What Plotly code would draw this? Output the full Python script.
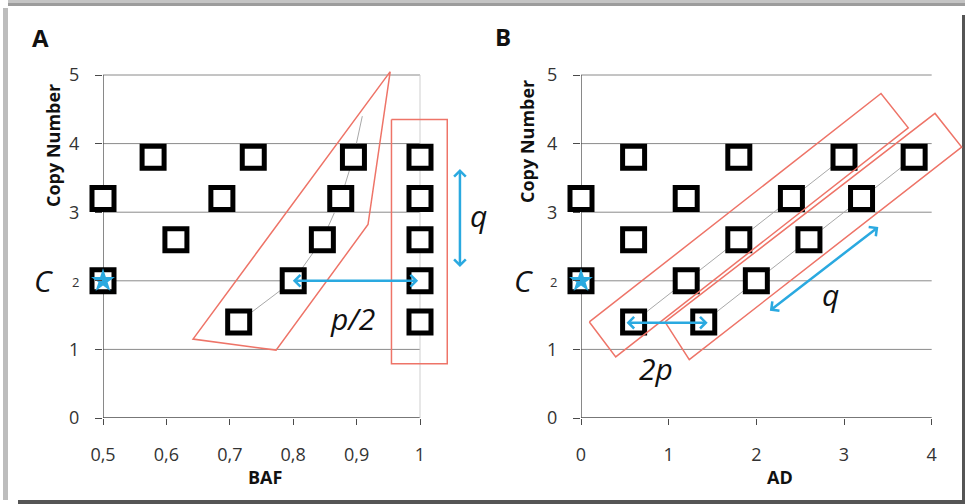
import plotly.graph_objects as go

# ---------------- data ----------------
# Panel A: BAF vs copy number
baf_vals = [0.579, 0.737, 0.895, 1.0,
            0.5, 0.6875, 0.875, 1.0,
            0.615, 0.846, 1.0,
            0.5, 0.8, 1.0,
            0.714, 1.0]
cn_vals = [3.8, 3.8, 3.8, 3.8,
           3.2, 3.2, 3.2, 3.2,
           2.6, 2.6, 2.6,
           2.0, 2.0, 2.0,
           1.4, 1.4]
# Panel B: AD vs copy number
ad_vals = [0.6, 1.8, 3.0, 3.8,
           0.0, 1.2, 2.4, 3.2,
           0.6, 1.8, 2.6,
           0.0, 1.2, 2.0,
           0.6, 1.4]

# normal (star) point
normal_baf = [0.5]
normal_ad = [0.0]
normal_cn = [2.0]

# connecting grey lines
conn_a_x = [0.714, 0.8, 0.846, 0.875, 0.895, 0.909]
conn_a_y = [1.4, 2.0, 2.6, 3.2, 3.8, 4.4]
conn_b1_x = [0.6, 1.2, 1.8, 2.4, 3.0]
conn_b2_x = [1.4, 2.0, 2.6, 3.2, 3.8]
conn_b_y = [1.4, 2.0, 2.6, 3.2, 3.8]

# red outlines
red_a1_x = [0.953, 0.918, 0.773, 0.642, 0.953]
red_a1_y = [5.05, 2.82, 0.99, 1.15, 5.05]
red_a2_x = [0.955, 1.043, 1.043, 0.955, 0.955]
red_a2_y = [4.35, 4.35, 0.79, 0.79, 4.35]
red_b1_x = [0.095, 0.396, 3.733, 3.422, 0.095]
red_b1_y = [1.40, 0.89, 4.23, 4.73, 1.40]
red_b2_x = [0.958, 1.235, 4.342, 4.038, 0.958]
red_b2_y = [1.40, 0.85, 3.95, 4.44, 1.40]

# ticks
x_a_ticks = [0.5, 0.6, 0.7, 0.8, 0.9, 1.0]
x_a_text = ["0,5", "0,6", "0,7", "0,8", "0,9", "1"]
x_b_ticks = [0, 1, 2, 3, 4]
x_b_text = ["0", "1", "2", "3", "4"]
y_ticks = [0, 1, 2, 3, 4, 5]
y_text = ["0", "1", "<span style='font-size:13px'>2</span>", "3", "4", "5"]

# ---------------- styling ----------------
W, H = 965, 504
FONT = "Open Sans"
CYAN = "#2aa9e0"
RED = "#ee7468"
GRID = "#8a8a8a"
AXIS = "#4a4a4a"

def px_x(p):
    return p / W

def px_y(p):
    return 1 - p / H

# pixel geometry
A_x0, A_scale, A_range = 103, 634.0, [0.5, 1.12]
B_x0, B_scale, B_range = 581, 87.67, [0, 4.37]
Y0, Y_scale, Y_range = 418, 68.6, [0, 5.1]

A_dom = [px_x(A_x0), px_x(A_x0 + (A_range[1] - A_range[0]) * A_scale)]
B_dom = [px_x(B_x0), px_x(B_x0 + (B_range[1] - B_range[0]) * B_scale)]
Y_dom = [px_y(Y0), px_y(Y0 - (Y_range[1] - Y_range[0]) * Y_scale)]

fig = go.Figure()

def line_trace(x, y, color, width, xa, ya):
    return go.Scatter(x=x, y=y, mode="lines", line=dict(color=color, width=width),
                      xaxis=xa, yaxis=ya, hoverinfo="skip", showlegend=False)

# grey connectors
fig.add_trace(line_trace(conn_a_x, conn_a_y, "#a8a8a8", 1, "x", "y"))
fig.add_trace(line_trace(conn_b1_x, conn_b_y, "#a8a8a8", 1, "x2", "y2"))
fig.add_trace(line_trace(conn_b2_x, conn_b_y, "#a8a8a8", 1, "x2", "y2"))

# squares
sq = dict(symbol="square", size=22, color="white", line=dict(color="black", width=5))
fig.add_trace(go.Scatter(x=baf_vals, y=cn_vals, mode="markers", marker=sq, cliponaxis=False,
                         xaxis="x", yaxis="y", showlegend=False))
fig.add_trace(go.Scatter(x=ad_vals, y=cn_vals, mode="markers", marker=sq, cliponaxis=False,
                         xaxis="x2", yaxis="y2", showlegend=False))

# red outlines
fig.add_trace(line_trace(red_a1_x, red_a1_y, RED, 1.5, "x", "y"))
fig.add_trace(line_trace(red_a2_x, red_a2_y, RED, 1.5, "x", "y"))
fig.add_trace(line_trace(red_b1_x, red_b1_y, RED, 1.5, "x2", "y2"))
fig.add_trace(line_trace(red_b2_x, red_b2_y, RED, 1.5, "x2", "y2"))

# stars
star = dict(symbol="star", size=18, color=CYAN, line=dict(width=0))
fig.add_trace(go.Scatter(x=normal_baf, y=normal_cn, mode="markers", marker=star, cliponaxis=False,
                         xaxis="x", yaxis="y", showlegend=False))
fig.add_trace(go.Scatter(x=normal_ad, y=normal_cn, mode="markers", marker=star, cliponaxis=False,
                         xaxis="x2", yaxis="y2", showlegend=False))

shapes = []
# frame
shapes.append(dict(type="rect", xref="paper", yref="paper", x0=px_x(8), x1=1, y0=px_y(3), y1=1,
                   fillcolor="#c4c4c4", line=dict(width=0), layer="below"))
shapes.append(dict(type="rect", xref="paper", yref="paper", x0=px_x(8), x1=1, y0=px_y(6), y1=px_y(3),
                   fillcolor="#9c9c9c", line=dict(width=0), layer="below"))
shapes.append(dict(type="rect", xref="paper", yref="paper", x0=px_x(3), x1=px_x(8), y0=px_y(500), y1=px_y(8),
                   fillcolor="#bdbdbd", line=dict(width=0), layer="below"))
shapes.append(dict(type="rect", xref="paper", yref="paper", x0=px_x(962), x1=1, y0=0, y1=px_y(15),
                   fillcolor="#555555", line=dict(width=0), layer="below"))
shapes.append(dict(type="rect", xref="paper", yref="paper", x0=px_x(18), x1=1, y0=0, y1=px_y(500),
                   fillcolor="#555555", line=dict(width=0), layer="below"))

# gridlines and axis lines
for xa, ya, xt in (("x", "y", x_a_ticks), ("x2", "y2", x_b_ticks)):
    xmin, xmax = xt[0], xt[-1]
    for yv in y_ticks[1:]:
        shapes.append(dict(type="line", xref=xa, yref=ya, x0=xmin, x1=xmax, y0=yv, y1=yv,
                           line=dict(color=GRID, width=1), layer="below"))
    shapes.append(dict(type="line", xref=xa, yref=ya, x0=xmin, x1=xmax, y0=0, y1=0,
                       line=dict(color=AXIS, width=1.3), layer="below"))
    shapes.append(dict(type="line", xref=xa, yref=ya, x0=xmin, x1=xmin, y0=0, y1=y_ticks[-1],
                       line=dict(color=AXIS, width=1.3), layer="below"))
# light vertical line at BAF = 1
shapes.append(dict(type="line", xref="x", yref="y", x0=x_a_ticks[-1], x1=x_a_ticks[-1], y0=0, y1=y_ticks[-1],
                   line=dict(color="#cfcfcf", width=1), layer="below"))

ann = []

def arrow(x, y, ax, ay, xa, ya):
    return dict(x=x, y=y, ax=ax, ay=ay, xref=xa, yref=ya, axref=xa, ayref=ya, text="",
                showarrow=True, arrowhead=4, startarrowhead=4, arrowside="end+start",
                arrowsize=0.9, startarrowsize=0.9, arrowwidth=2.5, arrowcolor=CYAN,
                standoff=0, startstandoff=0)

ann.append(arrow(0.997, 2.0, 0.797, 2.0, "x", "y"))
ann.append(arrow(1.063, 3.63, 1.063, 2.18, "x", "y"))
ann.append(arrow(1.445, 1.39, 0.502, 1.39, "x2", "y2"))
ann.append(arrow(3.391, 2.785, 2.137, 1.547, "x2", "y2"))

def txt(t, x, y, xr, yr, size, angle=0, color="#111"):
    return dict(text=t, x=x, y=y, xref=xr, yref=yr, showarrow=False, textangle=angle,
                xanchor="center", yanchor="middle", font=dict(family=FONT, size=size, color=color))

ann.append(txt("<b>A</b>", px_x(40), px_y(38), "paper", "paper", 24))
ann.append(txt("<b>B</b>", px_x(503), px_y(37), "paper", "paper", 24))
ann.append(txt("<b>Copy Number</b>", px_x(53), px_y(146), "paper", "paper", 18, -90))
ann.append(txt("<b>Copy Number</b>", px_x(527), px_y(142), "paper", "paper", 18, -90))
ann.append(txt("<b>BAF</b>", px_x(265), px_y(477), "paper", "paper", 18))
ann.append(txt("<b>AD</b>", px_x(780), px_y(477), "paper", "paper", 18))
ann.append(txt("<i>C</i>", px_x(43), 2.0, "paper", "y", 30))
ann.append(txt("<i>C</i>", px_x(523), 2.0, "paper", "y2", 30))
ann.append(txt("<i>q</i>", 1.092, 2.95, "x", "y", 30))
ann.append(txt("<i>p/2</i>", 0.894, 1.45, "x", "y", 30))
ann.append(txt("<i>q</i>", 2.85, 1.80, "x2", "y2", 30))
ann.append(txt("<i>2p</i>", 0.86, 0.72, "x2", "y2", 30))

tickfont = dict(family=FONT, size=18, color="#333")
common_x = dict(showgrid=False, zeroline=False, showline=False, ticks="outside", ticklen=6,
                tickcolor=AXIS, tickwidth=1.3, tickfont=tickfont, fixedrange=True,
                ticklabelstandoff=14, automargin=False)
common_y = dict(showgrid=False, zeroline=False, showline=False, ticks="outside", ticklen=7,
                tickcolor=AXIS, tickwidth=1.3, tickfont=tickfont, fixedrange=True,
                range=Y_range, domain=Y_dom, tickvals=y_ticks, ticktext=y_text,
                ticklabelstandoff=12, automargin=False)

fig.update_layout(
    template="none",
    width=W, height=H, margin=dict(l=0, r=0, t=0, b=0, pad=0, autoexpand=False),
    paper_bgcolor="white", plot_bgcolor="rgba(0,0,0,0)",
    xaxis=dict(common_x, range=A_range, domain=A_dom, tickvals=x_a_ticks, ticktext=x_a_text, anchor="y"),
    yaxis=dict(common_y, anchor="x"),
    xaxis2=dict(common_x, range=B_range, domain=B_dom, tickvals=x_b_ticks, ticktext=x_b_text, anchor="y2"),
    yaxis2=dict(common_y, anchor="x2"),
    shapes=shapes, annotations=ann, showlegend=False,
)

fig.write_html("out.html", config={"displayModeBar": False},
               post_script="document.body.style.margin='0';document.body.style.overflow='hidden';")
